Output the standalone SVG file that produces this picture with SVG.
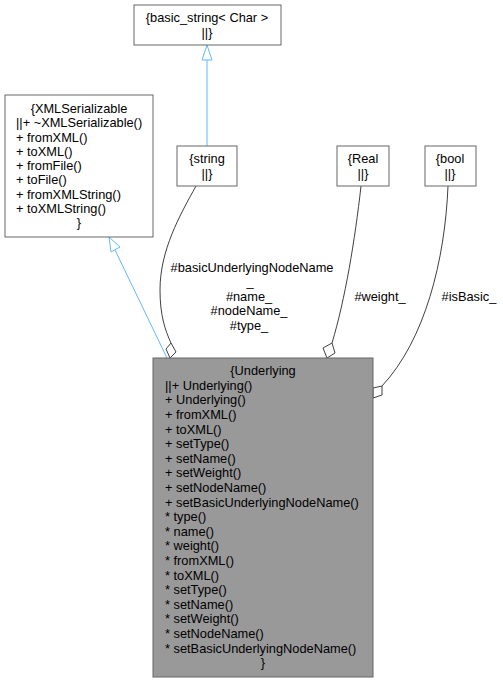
<svg xmlns="http://www.w3.org/2000/svg" width="503" height="683" viewBox="0 0 503 683">
<style>
text{font-family:"Liberation Sans",Arial,sans-serif;font-size:12.8px;fill:#000}
.c{text-anchor:middle}
.box{fill:#fff;stroke:#666;stroke-width:1}
.main{fill:#999;stroke:#666;stroke-width:1}
.inh{fill:none;stroke:#63b8ff;stroke-width:1}
.agg{fill:none;stroke:#404040;stroke-width:1}
.tri{fill:#fff;stroke:#63b8ff;stroke-width:1}
.dia{fill:#fff;stroke:#404040;stroke-width:1}
</style>
<rect width="503" height="683" fill="#fff"/>
<g id="edges">
<path class="inh" d="M207,146 L207,60"/>
<polygon class="tri" points="207,45 202,60 212,60"/>
<path class="inh" d="M167,358 L115,250"/>
<polygon class="tri" points="109,237 120,247 111,252"/>
<path class="agg" d="M196,186 C180,215 160,250 160,290 C160,315 165,330 171,343"/>
<polygon class="dia" points="171,343 176,352 170,358 166,349"/>
<path class="agg" d="M361,186 C355,240 345,300 332,343"/>
<polygon class="dia" points="332,343 335,353 327,358 323,348"/>
<path class="agg" d="M448,186 C445,260 425,340 382,386"/>
<polygon class="dia" points="382,386 382,395 373,398 373,388"/>
<text class="c" x="252" y="272">#basicUnderlyingNodeName</text>
<text class="c" x="250" y="286">_</text>
<text class="c" x="249" y="301">#name_</text>
<text class="c" x="249" y="315">#nodeName_</text>
<text class="c" x="249" y="330">#type_</text>
<text class="c" x="380" y="301">#weight_</text>
<text class="c" x="469" y="301">#isBasic_</text>
</g>
<g id="basic_string">
<rect class="box" x="134" y="5" width="147" height="40"/>
<text class="c" x="207" y="22">{basic_string&lt; Char &gt;</text>
<text class="c" x="207" y="37">||}</text>
</g>
<g id="XMLSerializable">
<rect class="box" x="5" y="95" width="148" height="142"/>
<text class="c" x="79" y="113">{XMLSerializable</text>
<text x="16" y="127">||+ ~XMLSerializable()</text>
<text x="16" y="142">+ fromXML()</text>
<text x="16" y="156">+ toXML()</text>
<text x="16" y="170">+ fromFile()</text>
<text x="16" y="184">+ toFile()</text>
<text x="16" y="199">+ fromXMLString()</text>
<text x="16" y="213">+ toXMLString()</text>
<text class="c" x="79" y="227">}</text>
</g>
<g id="string">
<rect class="box" x="177" y="146" width="60" height="40"/>
<text class="c" x="207" y="163">{string</text>
<text class="c" x="207" y="178">||}</text>
</g>
<g id="Real">
<rect class="box" x="337" y="146" width="52" height="40"/>
<text class="c" x="363" y="163">{Real</text>
<text class="c" x="363" y="178">||}</text>
</g>
<g id="bool">
<rect class="box" x="425" y="146" width="51" height="40"/>
<text class="c" x="450" y="163">{bool</text>
<text class="c" x="450" y="178">||}</text>
</g>
<g id="Underlying">
<rect class="main" x="153" y="358" width="220" height="319"/>
<text class="c" x="263" y="375">{Underlying</text>
<text x="165" y="390">||+ Underlying()</text>
<text x="165" y="404">+ Underlying()</text>
<text x="165" y="419">+ fromXML()</text>
<text x="165" y="434">+ toXML()</text>
<text x="165" y="448">+ setType()</text>
<text x="165" y="463">+ setName()</text>
<text x="165" y="477">+ setWeight()</text>
<text x="165" y="492">+ setNodeName()</text>
<text x="165" y="507">+ setBasicUnderlyingNodeName()</text>
<text x="165" y="521">* type()</text>
<text x="165" y="536">* name()</text>
<text x="165" y="550">* weight()</text>
<text x="165" y="565">* fromXML()</text>
<text x="165" y="580">* toXML()</text>
<text x="165" y="594">* setType()</text>
<text x="165" y="609">* setName()</text>
<text x="165" y="623">* setWeight()</text>
<text x="165" y="638">* setNodeName()</text>
<text x="165" y="653">* setBasicUnderlyingNodeName()</text>
<text class="c" x="263" y="667">}</text>
</g>
</svg>
